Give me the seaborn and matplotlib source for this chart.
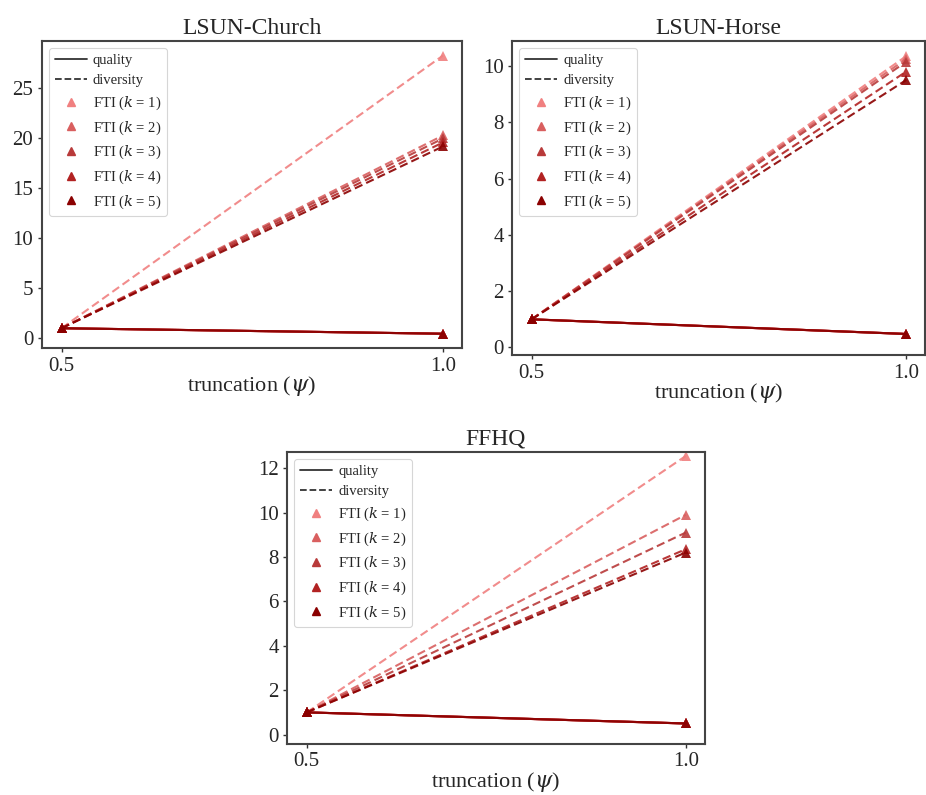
import seaborn as sns
import pandas as pd
import matplotlib.pyplot as plt
from matplotlib.lines import Line2D

sns.set_theme('paper', style='ticks')
plt.rcParams['font.family'] = ['Liberation Serif', 'DejaVu Serif']
plt.rcParams['mathtext.fontset'] = 'dejavuserif'

psi = [0.5, 1.0]
ks = [1, 2, 3, 4, 5]
colors = ['#f08080', '#d95f5f', '#b83a3a', '#b22222', '#8b0000']

# end values at psi = 1.0 (start at 1.0 for every k)
church_div = [28.3, 20.3, 20.0, 19.6, 19.2]
church_qual = [0.45, 0.45, 0.45, 0.45, 0.45]
horse_div = [10.35, 10.25, 10.15, 9.8, 9.5]
horse_qual = [0.48, 0.48, 0.48, 0.48, 0.48]
ffhq_div = [12.55, 9.9, 9.1, 8.35, 8.2]
ffhq_qual = [0.5, 0.5, 0.5, 0.5, 0.5]


def make_df(div, qual):
    rows = []
    for k, d, q in zip(ks, div, qual):
        rows.append({'psi': psi[0], 'value': 1.0, 'k': k, 'metric': 'quality'})
        rows.append({'psi': psi[1], 'value': q, 'k': k, 'metric': 'quality'})
        rows.append({'psi': psi[0], 'value': 1.0, 'k': k, 'metric': 'diversity'})
        rows.append({'psi': psi[1], 'value': d, 'k': k, 'metric': 'diversity'})
    return pd.DataFrame(rows)


fig = plt.figure(figsize=(9.26, 7.95), dpi=100)
panels = [
    ('LSUN-Church', church_div, church_qual, [0.045, 0.562, 0.454, 0.387], (-1.0, 29.8), [0, 5, 10, 15, 20, 25]),
    ('LSUN-Horse', horse_div, horse_qual, [0.553, 0.553, 0.446, 0.396], (-0.28, 10.9), [0, 2, 4, 6, 8, 10]),
    ('FFHQ', ffhq_div, ffhq_qual, [0.31, 0.064, 0.451, 0.368], (-0.43, 12.75), [0, 2, 4, 6, 8, 10, 12]),
]

for title, div, qual, pos, ylim, yticks in panels:
    ax = fig.add_axes(pos)
    df = make_df(div, qual)
    sns.lineplot(data=df, x='psi', y='value', hue='k', style='metric',
                 palette=colors, dashes={'quality': '', 'diversity': (4, 2)},
                 markers={'quality': '^', 'diversity': '^'}, markersize=7,
                 markeredgewidth=0, linewidth=1.5, alpha=0.9, legend=False, ax=ax)
    ax.set_xlim(0.474, 1.025)
    ax.set_ylim(*ylim)
    ax.set_xticks([0.5, 1.0])
    ax.set_yticks(yticks)
    ax.tick_params(labelsize=15, length=3, width=1, pad=3, color='#333333')
    ax.set_xlabel(r'truncation ($\psi$)', fontsize=16, labelpad=-1)
    ax.set_ylabel('')
    ax.set_title(title, fontsize=17, pad=5)
    for s in ax.spines.values():
        s.set_visible(True)
        s.set_color('#444444')
        s.set_linewidth(1.5)

    handles = [Line2D([], [], color='#333333', lw=1.3, ls='-', label='quality'),
               Line2D([], [], color='#333333', lw=1.3, ls='--', label='diversity')]
    for k, c in zip(ks, colors):
        handles.append(Line2D([], [], color=c, marker='^', ls='', markersize=6,
                              label=r'FTI ($k$ = %d)' % k))
    ax.legend(handles=handles, loc='upper left', fontsize=10.5, frameon=True,
              handlelength=2.2, handletextpad=0.4, borderpad=0.4, labelspacing=0.5)

plt.savefig('out.png', dpi=100)
